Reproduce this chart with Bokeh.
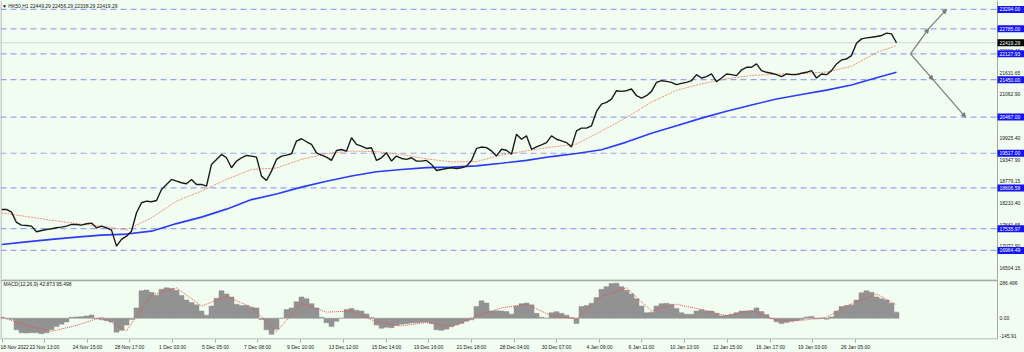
from bokeh.plotting import figure
from bokeh.layouts import column
from bokeh.models import Range1d, FixedTicker, LinearAxis, Arrow, NormalHead
from bokeh.core.properties import value
from bokeh.embed import file_html
from bokeh.resources import INLINE

# ---------------- data ----------------
close = [18042, 18042, 17971, 17700, 17630, 17621, 17604, 17455, 17490, 17516,
         17534, 17560, 17578, 17604, 17648, 17648, 17630, 17665, 17683, 17560,
         17604, 17560, 17499, 17078, 17254, 17341, 17472, 17954, 18217, 18260,
         18243, 18278, 18567, 18698, 18830, 18786, 18742, 18716, 18830, 18698,
         18698, 18654, 19224, 19355, 19486, 19399, 19136, 19311, 19399, 19460,
         19443, 19416, 18917, 18803, 19048, 19355, 19443, 19469, 19504, 19837,
         19898, 19819, 19749, 19530, 19469, 19416, 19329, 19591, 19617, 19574,
         19924, 19749, 19705, 19644, 19661, 19329, 19399, 19530, 19311, 19443,
         19381, 19355, 19399, 19311, 19311, 19329, 19224, 19066, 19092, 19118,
         19136, 19118, 19136, 19180, 19329, 19644, 19680, 19666, 19578, 19447,
         19622, 19596, 19491, 20018, 19886, 19974, 19622, 19684, 19737, 19798,
         19974, 19886, 19842, 19798, 19684, 20106, 20176, 20176, 20238, 20615,
         20808, 20852, 20940, 21160, 21142, 21160, 21204, 21028, 20967, 21028,
         21142, 21379, 21423, 21406, 21379, 21318, 21353, 21379, 21423, 21581,
         21494, 21529, 21599, 21397, 21494, 21599, 21581, 21555, 21704, 21775,
         21775, 21863, 21687, 21643, 21617, 21581, 21529, 21599, 21581, 21581,
         21617, 21643, 21687, 21494, 21599, 21581, 21687, 21863, 21968, 21994,
         22082, 22407, 22521, 22548, 22565, 22583, 22609, 22671, 22653, 22419.29]
bar_index = list(range(len(close)))

ma_index = list(range(0, 180, 5)) + [179]
ma_fast = [17954, 17855, 17757, 17670, 17604, 17500, 17823, 18260, 18523, 18830,
           19092, 19130, 19355, 19510, 19574, 19560, 19486, 19370, 19290, 19300,
           19470, 19580, 19680, 19760, 20100, 20460, 20860, 21170, 21340, 21470,
           21560, 21595, 21610, 21650, 21800, 22160, 22346]
ma_slow = [17122, 17190, 17255, 17315, 17367, 17395, 17472, 17670, 17840, 18050,
           18300, 18445, 18628, 18780, 18920, 19030, 19092, 19140, 19153, 19185,
           19255, 19330, 19430, 19510, 19610, 19810, 20040, 20240, 20440, 20620,
           20785, 20940, 21060, 21175, 21310, 21500, 21643]

macd_hist = [8, 0, -10, -95, -120, -122, -120, -120, -128, -120,
             -95, -69, -50, -31, 8, 10, 13, 18, 26, -5,
             -13, -20, -31, -115, -100, -56, -10, 85, 226, 233,
             213, 190, 238, 251, 245, 230, 187, 150, 130, 110,
             59, 25, 100, 165, 226, 200, 175, 115, 105, 105,
             90, 85, -10, -95, -133, -90, 0, 72, 85, 136,
             175, 160, 120, 85, 8, -38, -69, -25, 0, 72,
             80, 65, 59, 35, 5, -56, -82, -75, -78, -60,
             -50, -46, -40, -38, -33, -31, -44, -95, -100, -90,
             -69, -56, -44, -25, -13, 97, 143, 125, 59, 62,
             60, 55, 33, 100, 120, 125, 110, 40, 8, 0,
             46, 54, 40, 25, 5, -44, 97, 105, 123, 170,
             238, 260, 285, 288, 260, 230, 200, 160, 100, 45,
             50, 100, 120, 123, 115, 80, 45, 33, 33, 60,
             70, 59, 59, 40, 20, 25, 33, 45, 59, 60,
             62, 85, 55, 30, -5, -30, -44, -35, -28, -20,
             -10, 10, 15, -5, -3, -8, 10, 60, 97, 105,
             110, 150, 210, 226, 213, 175, 160, 150, 123, 50]
macd_signal = [8, -60, -108, -60, 10, -105, 190, 250, 100, 180,
               90, -110, 123, 50, 59, -30, -64, -35, -70, 20,
               85, 115, 20, -5, 180, 250, 60, 115, 72, 20,
               65, -15, -18, 8, 120, 200, 110]

levels = [23294.00, 22785.00, 22127.93, 21450.00, 20467.00,
          19517.00, 18606.58, 17535.97, 16964.49]
level_labels = ["23294.00", "22785.00", "22127.93", "21450.00", "20467.00",
                "19517.00", "18606.58", "17535.97", "16964.49"]
last_price = 22419.29
last_label = "22419.29"

price_ticks = [16504.15, 17072.90, 17641.65, 18210.40, 18779.15, 19347.90,
               19925.40, 21062.90, 21631.65, 22200.40]
price_tick_labels = ["16504.15", "17072.90", "17641.65", "18210.40", "18779.15",
                     "19347.90", "19925.40", "21062.90", "21631.65", "22200.40"]

macd_ticks = [286.496, 0.0, -145.91]
macd_tick_labels = ["286.496", "0.00", "-145.91"]

date_ticks = [0.2, 8.6, 17.2, 25.6, 34.2, 42.8, 51.2, 59.8, 68.4, 77.0, 85.4,
              94.0, 102.6, 111.0, 119.6, 128.0, 136.6, 145.2, 153.8, 162.2, 170.8]
date_labels = ["18 Nov 2022", "22 Nov 13:00", "24 Nov 15:00", "28 Nov 17:00",
               "1 Dec 03:00", "5 Dec 05:00", "7 Dec 08:00", "9 Dec 10:00",
               "13 Dec 12:00", "15 Dec 14:00", "19 Dec 16:00", "21 Dec 18:00",
               "28 Dec 04:00", "30 Dec 07:00", "4 Jan 09:00", "6 Jan 11:00",
               "10 Jan 13:00", "12 Jan 15:00", "16 Jan 17:00", "19 Jan 03:00",
               "26 Jan 05:00"]

# projection arrows (bar index, price)
proj_vertex = (181.8, 22127.93)
proj_up = [(185.4, 22785.00), (189.0, 23294.00)]
proj_down = [(186.3, 21450.00), (192.8, 20467.00)]

header = "\u25bc HK50,H1  22449.29 22456.29 22338.29 22419.29"
macd_title = "MACD(12,26,9) 42.873 95.498"

# ---------------- layout constants ----------------
W = 1024
PX_BAR = 5.0
X0 = -0.2
X1 = X0 + W / PX_BAR
AXIS_X = 997 / PX_BAR + X0
LABEL_X = 999 / PX_BAR + X0
BOX_XC = (AXIS_X + X1) / 2
BOX_W = X1 - AXIS_X

MAIN_H = 279
PPP = 26.26                      # price per pixel
Y_ANCHOR_PX, Y_ANCHOR = 267.5, 16504.15
main_y0 = Y_ANCHOR - (MAIN_H - Y_ANCHOR_PX) * PPP
main_y1 = Y_ANCHOR + Y_ANCHOR_PX * PPP

MACD_H = 73
MACD_BOTTOM = 9
MPP = 7.72
ZERO_PX = 41.3                   # zero line, px below macd frame top
macd_frame_h = MACD_H - MACD_BOTTOM
macd_y1 = ZERO_PX * MPP
macd_y0 = -(macd_frame_h - ZERO_PX) * MPP

BG = "#f0fdf0"
FRAME = "#a3a9a3"
FONT = value("Liberation Sans")
FS = "5px"
DASH_C = "#98a2f2"

# ---------------- main price panel ----------------
p = figure(width=W, height=MAIN_H, output_backend="svg", toolbar_location=None,
           x_range=Range1d(X0, X1), y_range=Range1d(main_y0, main_y1),
           x_axis_location=None, y_axis_location=None,
           background_fill_color=BG, border_fill_color=BG,
           min_border=0, outline_line_color=None)
p.grid.visible = False

# horizontal levels
p.segment(x0=[X0] * len(levels), x1=[AXIS_X] * len(levels), y0=levels, y1=levels,
          line_color=DASH_C, line_width=1.2, line_dash="6 4")
p.segment(x0=[X0], x1=[AXIS_X], y0=[last_price], y1=[last_price],
          line_color="#d2d6d2", line_width=1)

# moving averages
p.line(ma_index, ma_slow, line_color="#2b3cf5", line_width=1.6)
p.line(ma_index, ma_fast, line_color="#f3907c", line_width=1, line_dash="2 1")

# price
p.line(bar_index, close, line_color="#1a1a1a", line_width=1.4)

# projection arrows
head = dict(size=4, line_color="#7a7a7a", fill_color="#7a7a7a")
for path in (proj_up, proj_down):
    pts = [proj_vertex] + path
    for (xa, ya), (xb, yb) in zip(pts[:-1], pts[1:]):
        p.add_layout(Arrow(end=NormalHead(**head), x_start=xa, y_start=ya,
                           x_end=xb, y_end=yb, line_color="#7a7a7a", line_width=1.2))

# right border + price scale
p.segment(x0=[AXIS_X], x1=[AXIS_X], y0=[main_y0], y1=[main_y1],
          line_color=FRAME, line_width=1)
p.segment(x0=[X0 + 0.1], x1=[X0 + 0.1], y0=[main_y0], y1=[main_y1],
          line_color=FRAME, line_width=1)
p.text(x=[LABEL_X] * len(price_ticks), y=price_ticks, text=price_tick_labels,
       text_font=FONT, text_font_size=FS, text_color="#202020",
       text_baseline="middle", text_align="left")
p.rect(x=[BOX_XC] * len(levels), y=levels, width=BOX_W, height=7,
       height_units="screen", fill_color="#1414f0", line_color=None)
p.text(x=[LABEL_X] * len(levels), y=levels, text=level_labels,
       text_font=FONT, text_font_size=FS, text_color="white",
       text_baseline="middle", text_align="left")
p.rect(x=[BOX_XC], y=[last_price], width=BOX_W, height=7, height_units="screen",
       fill_color="#000000", line_color=None)
p.text(x=[LABEL_X], y=[last_price], text=[last_label], text_font=FONT,
       text_font_size=FS, text_color="white", text_baseline="middle", text_align="left")

# header
p.text(x=[X0 + 0.3], y=[main_y1 - 5 * PPP], text=[header], text_font=FONT,
       text_font_size=FS, text_color="#202020", text_baseline="middle", text_align="left")

# ---------------- MACD panel ----------------
m = figure(width=W, height=MACD_H, output_backend="svg", toolbar_location=None,
           x_range=p.x_range, y_range=Range1d(macd_y0, macd_y1),
           x_axis_location=None, y_axis_location=None,
           background_fill_color=BG, border_fill_color=BG,
           min_border=0, min_border_bottom=MACD_BOTTOM, outline_line_color=None)
m.grid.visible = False

m.vbar(x=bar_index, top=macd_hist, bottom=0, width=1.0,
       fill_color="#929292", line_color="#929292", line_width=0.5)
m.line(ma_index, macd_signal, line_color="#f05050", line_width=1, line_dash="1 1")

top_line = macd_y1 - 0.8 * MPP
bot_line = macd_y0 + 0.6 * MPP
m.segment(x0=[X0], x1=[AXIS_X], y0=[top_line], y1=[top_line],
          line_color=FRAME, line_width=2)
m.segment(x0=[X0], x1=[AXIS_X], y0=[bot_line], y1=[bot_line],
          line_color=FRAME, line_width=1)
m.segment(x0=[AXIS_X], x1=[AXIS_X], y0=[bot_line], y1=[macd_y1],
          line_color=FRAME, line_width=1)
m.segment(x0=[X0 + 0.1], x1=[X0 + 0.1], y0=[bot_line], y1=[macd_y1],
          line_color=FRAME, line_width=1)
m.text(x=[LABEL_X] * len(macd_ticks), y=macd_ticks, text=macd_tick_labels,
       text_font=FONT, text_font_size=FS, text_color="#202020",
       text_baseline="middle", text_align="left")
m.text(x=[X0 + 0.6], y=[macd_y1 - 4.5 * MPP], text=[macd_title], text_font=FONT,
       text_font_size=FS, text_color="#202020", text_baseline="middle", text_align="left")

xaxis = LinearAxis(ticker=FixedTicker(ticks=date_ticks),
                   major_label_overrides={t: l for t, l in zip(date_ticks, date_labels)},
                   axis_line_color=None, major_tick_line_color=FRAME,
                   major_tick_in=0, major_tick_out=3, minor_tick_line_color=None,
                   major_label_standoff=1, major_label_text_font_size=FS,
                   major_label_text_font="Liberation Sans",
                   major_label_text_color="#202020", major_label_text_align="left")
m.add_layout(xaxis, "below")

layout = column(p, m, spacing=0, styles={"background-color": BG})
open("out.html", "w").write(file_html(layout, INLINE))
